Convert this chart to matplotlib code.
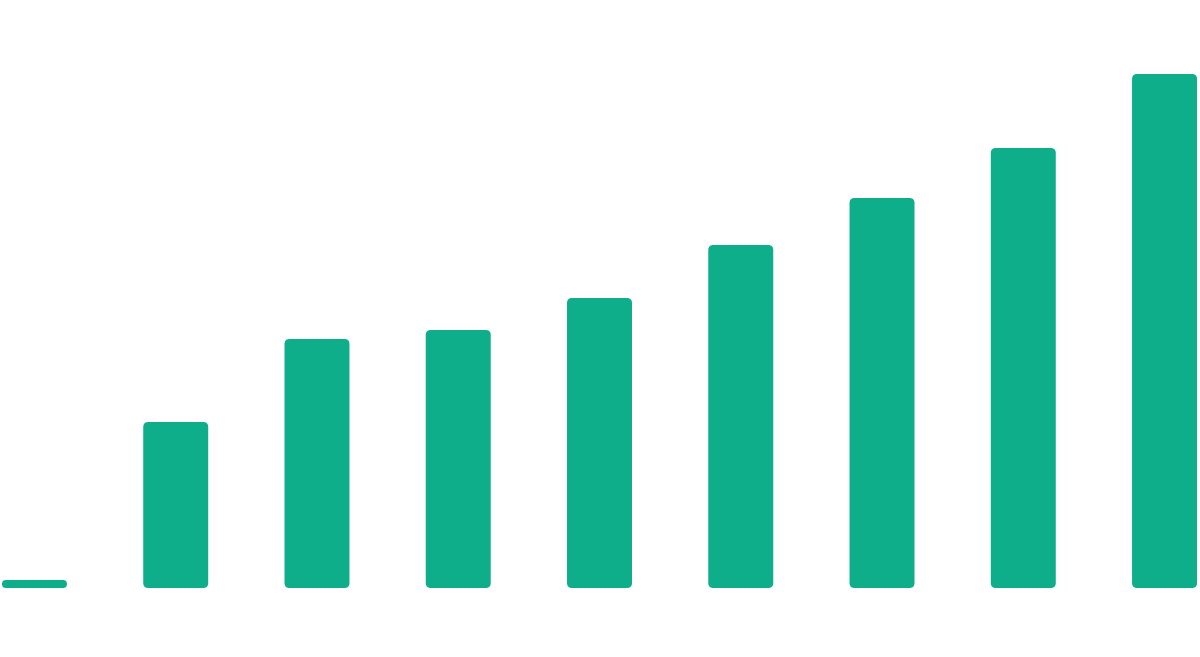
import matplotlib
matplotlib.use("Agg")
import matplotlib.pyplot as plt
from matplotlib.patches import FancyBboxPatch

# 数值
categories = ["1", "2", "3", "4", "5", "6", "7", "8", "9"]
values = [8, 166, 249, 258, 290, 343, 390, 440, 514]
bar_color = "#0FAE8B"

fig = plt.figure(figsize=(12, 6.57), dpi=100)
ax = fig.add_axes([0, 0, 1, 1])
ax.set_xlim(-0.244, 8.251)
ax.set_ylim(-69, 588)
ax.axis("off")

bars = ax.bar(range(len(categories)), values, width=0.46, color=bar_color)

# 圆角: 把普通矩形换成 FancyBboxPatch
x_per_px = (8.251 + 0.244) / 1200
y_per_px = (588 + 69) / 657
for b in bars:
    b.set_visible(False)
    h_px = b.get_height() / y_per_px
    r_px = min(5, h_px / 2)
    p = FancyBboxPatch((b.get_x(), b.get_y()), b.get_width(), b.get_height(),
                       boxstyle="round,pad=0,rounding_size=%f" % (r_px * x_per_px),
                       mutation_aspect=y_per_px / x_per_px,
                       facecolor=bar_color, edgecolor="none")
    ax.add_patch(p)

fig.savefig("out.png", dpi=100)
